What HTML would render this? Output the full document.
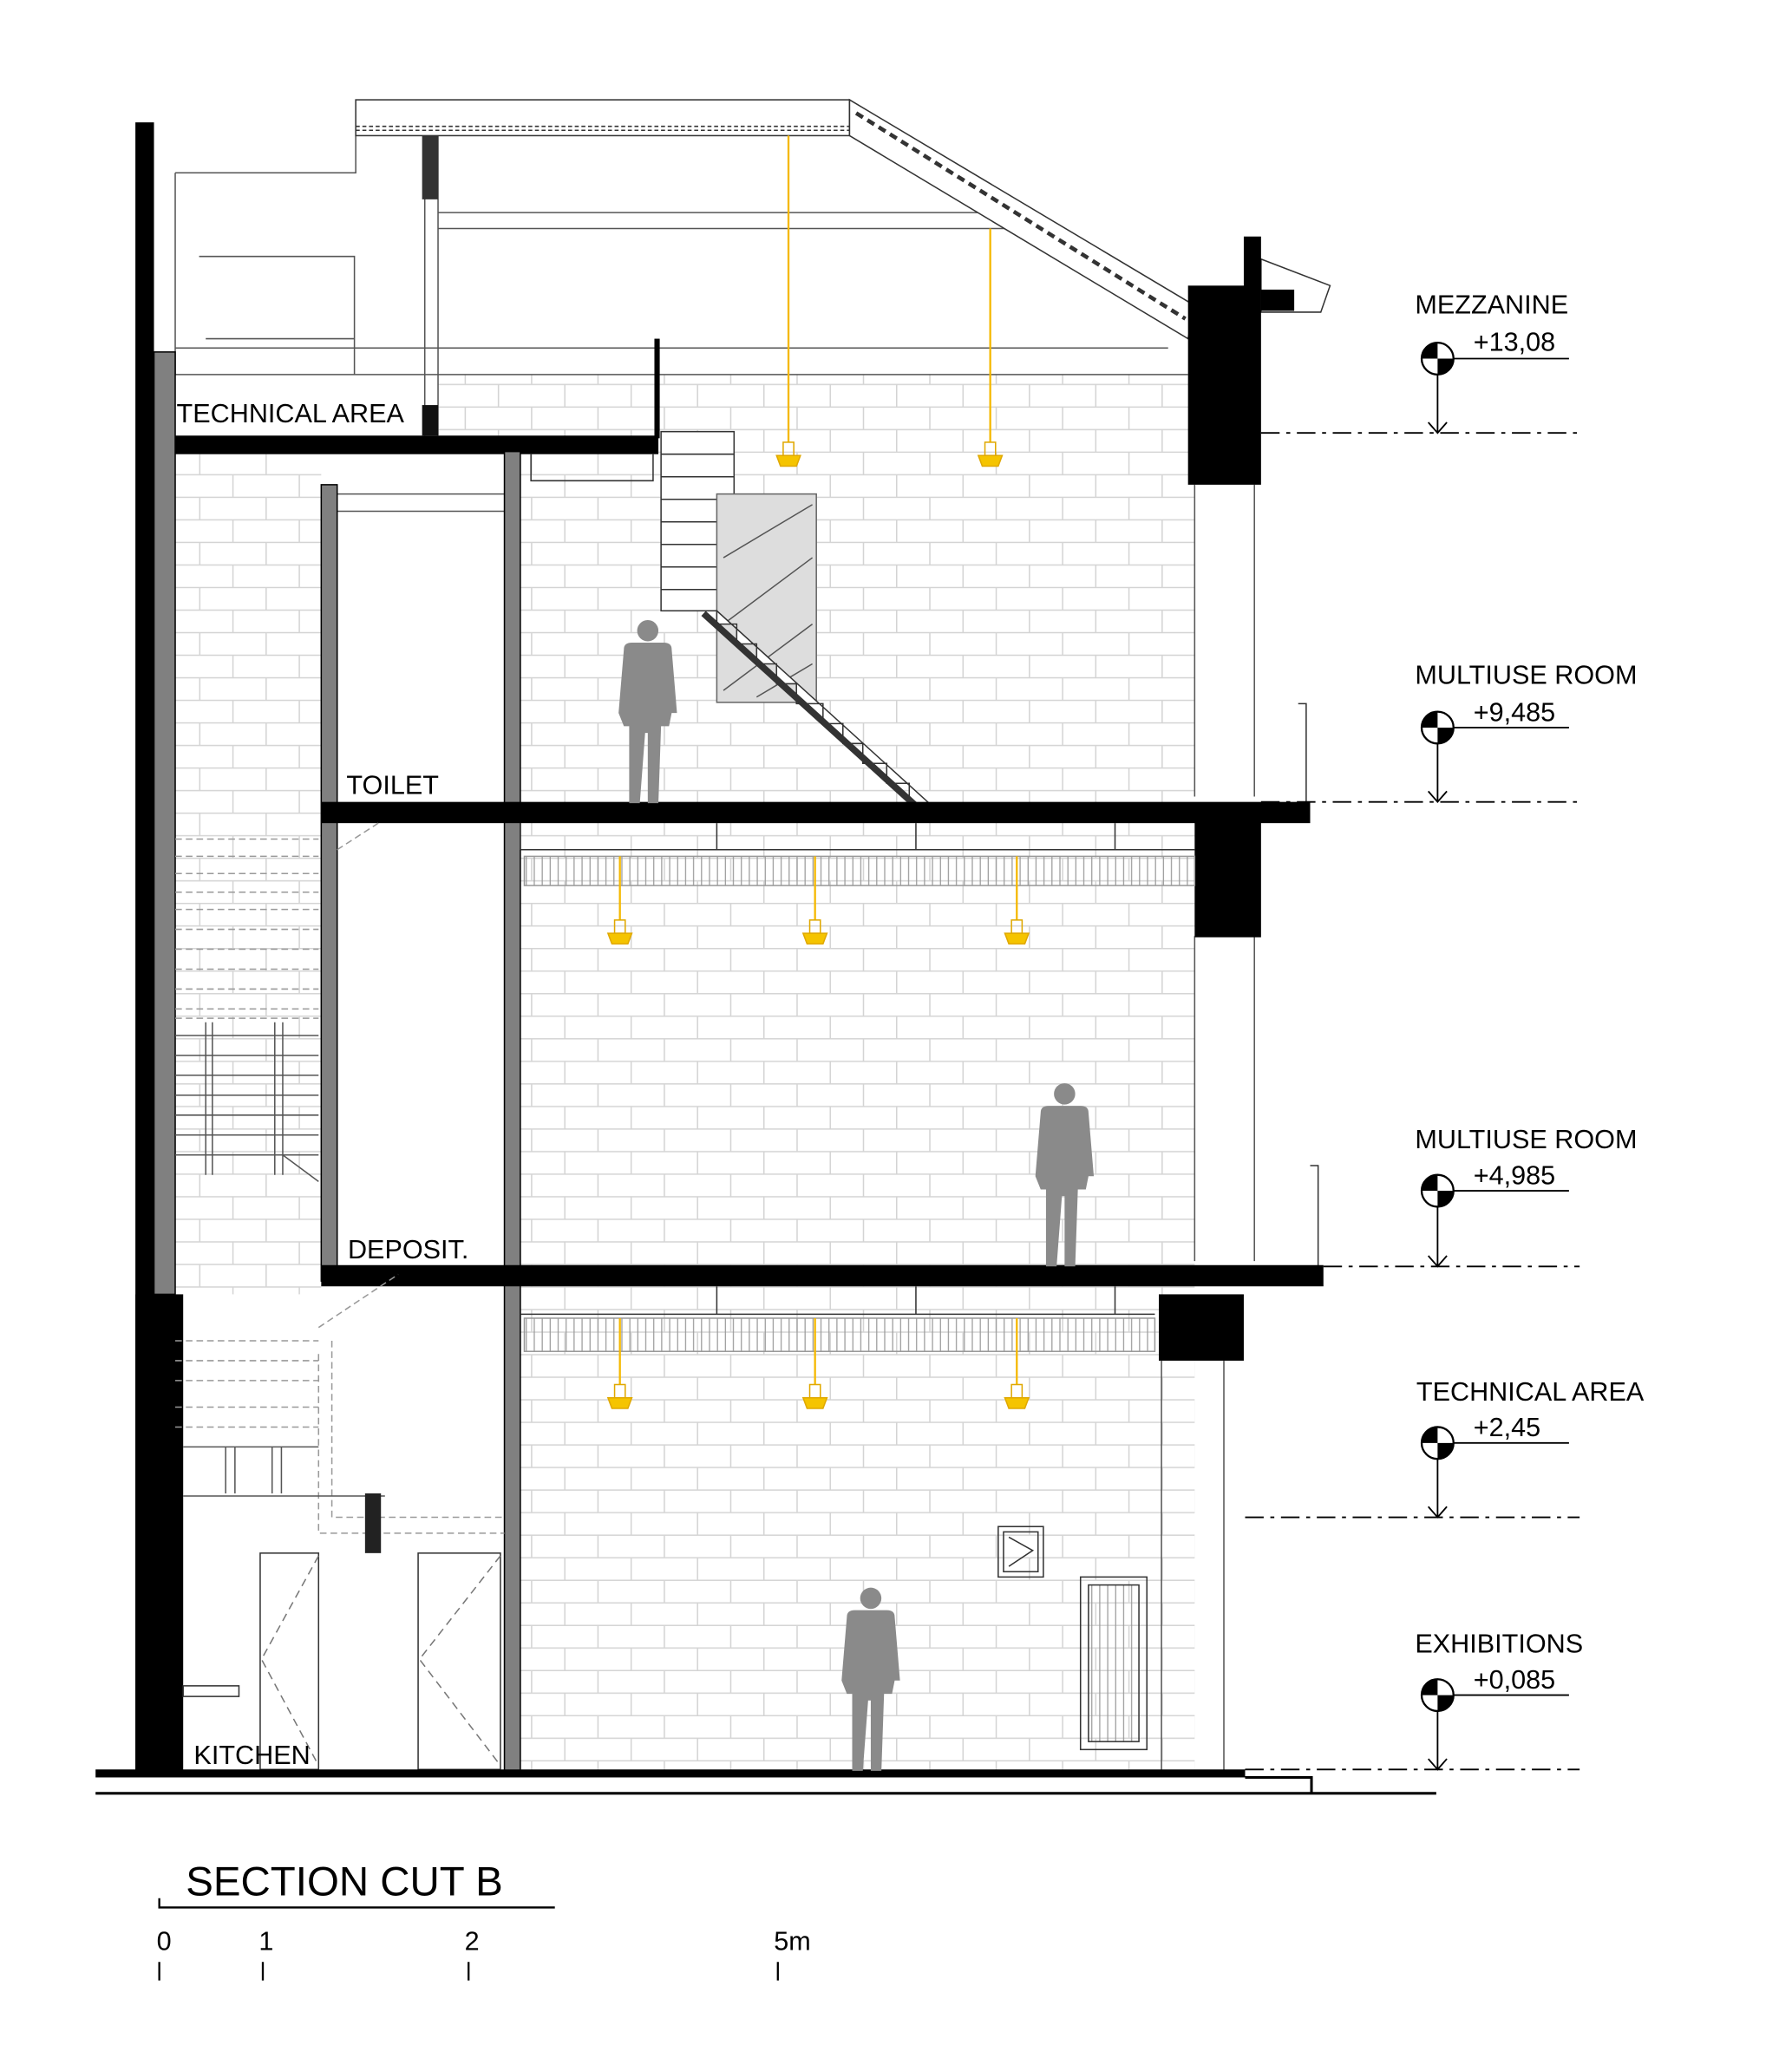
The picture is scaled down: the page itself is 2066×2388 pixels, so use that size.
<!DOCTYPE html>
<html><head><meta charset="utf-8"><style>html,body{margin:0;padding:0;background:#fff}svg{display:block}</style></head>
<body>
<svg width="2066" height="2388" viewBox="0 0 1350 1560" xmlns="http://www.w3.org/2000/svg" font-family="Liberation Sans, sans-serif">
<defs>
<pattern id="brick" x="0" y="0" width="50" height="34" patternUnits="userSpaceOnUse">
<rect width="50" height="34" fill="#fff"/>
<path d="M0 0.5H50M0 17.5H50M0.5 0V17M25.5 17V34" stroke="#d4d4d4" stroke-width="1" fill="none"/>
</pattern>
<pattern id="vert" width="6" height="30" patternUnits="userSpaceOnUse"><path d="M0.5 0V30" stroke="#999" stroke-width="0.8"/></pattern>
<g id="lamp" fill="#f5c400" stroke="#e0a800" stroke-width="1"><rect x="-4" y="0" width="8" height="10" fill="none"/><path d="M-9 10h18l-3 8h-12z" fill="#f5c400"/></g>
<g id="man" fill="#8a8a8a"><circle cx="0" cy="8" r="8"/><path d="M-18 22Q-18 17 -12 17H12Q18 17 18 22L22 70H18L16 80H10L8 138H0V85H-2L-6 138H-14L-14 80H-18L-22 70z"/></g>
</defs>
<rect width="1350" height="1560" fill="#fff"/>
<!-- brick areas -->
<rect x="392" y="282" width="508" height="1053" fill="url(#brick)"/>
<rect x="132" y="342" width="110" height="633" fill="url(#brick)"/>
<rect x="330" y="282" width="70" height="46" fill="url(#brick)"/>
<!-- upper technical area lines -->
<g stroke="#555" fill="none" stroke-width="1">
<path d="M132 130H268V102M132 130V282H895M330 160H760M330 172H770M132 262H880M150 193H267V282M155 255H267"/>
<path d="M320 102V328M330 102V328"/>
<path d="M900 365V600M900 705V950M945 365V600M945 705V950M875 1025V1335M922 1025V1335"/>
<path d="M254 385H380M254 372H380M254 370V600M254 625V950"/>
</g>
<rect x="318" y="100" width="12" height="50" fill="#333"/>
<rect x="318" y="305" width="12" height="23" fill="#111"/>
<!-- roof -->
<rect x="268" y="75" width="372" height="27" fill="#fff" stroke="#333"/>
<path d="M268 95H640M268 98H640" stroke="#333" stroke-dasharray="3 2"/>
<path d="M640 75L900 230L895 255L640 102z" fill="#fff" stroke="#333"/>
<path d="M645 85L893 240" stroke="#333" stroke-dasharray="6 4" stroke-width="3"/>
<path d="M950 195L1002 215L995 235H950z" fill="#fff" stroke="#333"/>
<!-- left wall -->
<rect x="102" y="92" width="14" height="1243" fill="#000"/>
<rect x="116" y="265" width="16" height="710" fill="#808080" stroke="#000"/>
<rect x="102" y="975" width="36" height="360" fill="#000"/>
<!-- mezz slab -->
<rect x="132" y="328" width="364" height="14" fill="#000"/>
<rect x="493" y="255" width="4" height="75" fill="#000"/>
<path d="M400 342V362H492V342" stroke="#333" fill="none"/>
<!-- stair upper -->
<g stroke="#333" fill="#fff"><rect x="498" y="325" width="55" height="135"/></g>
<path d="M498 342H553M498 359H553M498 376H553M498 393H553M498 410H553M498 427H553M498 444H553" stroke="#333"/>
<rect x="540" y="372" width="75" height="157" fill="#ddd" stroke="#666"/>
<path d="M545 420L612 380M545 470L612 420M545 520L612 470M570 525L612 500" stroke="#555"/>
<path d="M522 460H540V470H555V485H570V500H585V515H600V530H620V545H635V560H650V575H668V590H685V605H700L540 460z" fill="#fff" stroke="#333"/>
<path d="M530 462L690 607" stroke="#333" stroke-width="5"/>
<!-- columns -->
<rect x="380" y="340" width="12" height="995" fill="#808080" stroke="#000"/>
<rect x="242" y="365" width="12" height="600" fill="#808080" stroke="#000"/>
<!-- right wall -->
<rect x="937" y="178" width="13" height="40" fill="#000"/>
<rect x="895" y="215" width="55" height="150" fill="#000"/>
<rect x="950" y="218" width="25" height="16" fill="#000"/>
<rect x="900" y="618" width="50" height="88" fill="#000"/>
<rect x="873" y="975" width="64" height="50" fill="#000"/>
<path d="M978 530H984V605M987 878H993V955" stroke="#333" fill="none"/>
<!-- slabs -->
<rect x="242" y="604" width="745" height="16" fill="#000"/>
<rect x="242" y="953" width="755" height="16" fill="#000"/>
<!-- ceiling hangers -->
<g stroke="#333" fill="none"><path d="M392 640H900M392 990H870M392 620V640M540 620V640M690 620V640M840 620V640M540 969V990M690 969V990M840 969V990"/></g>
<rect x="395" y="645" width="505" height="22" fill="url(#vert)" stroke="#999"/>
<rect x="395" y="993" width="475" height="25" fill="url(#vert)" stroke="#999"/>
<!-- left stair (dashed) -->
<g stroke="#999" fill="none" stroke-dasharray="5 3">
<path d="M132 632H240M132 645H240M132 658H240M132 672H240M132 685H240M132 700H240M132 715H240M132 730H240M132 745H240M132 760H240M132 767H240"/>
<path d="M254 640L285 620M240 1020V1155H380M250 1010V1143H380M240 1000L300 960M132 1010H240M132 1025H240M132 1040H240M132 1060H240M132 1075H240"/>
</g>
<g stroke="#555" fill="none">
<path d="M132 780H240M132 795H240M132 810H240M132 825H240M132 840H240M132 855H240M132 870H240M155 770V885M160 770V885M207 770V885M213 770V885M213 870L240 890"/>
<path d="M138 1090H240M138 1127H290M170 1090V1125M177 1090V1125M205 1090V1125M212 1090V1125"/>
</g>
<rect x="275" y="1125" width="12" height="45" fill="#222"/>
<!-- kitchen doors -->
<g stroke="#333" fill="none"><rect x="196" y="1170" width="44" height="163"/><rect x="315" y="1170" width="62" height="163"/><rect x="138" y="1270" width="42" height="8"/>
<path d="M240 1172L197 1250L240 1330M377 1172L316 1250L377 1330" stroke-dasharray="6 4" stroke="#777"/>
<rect x="752" y="1150" width="34" height="38"/><rect x="756" y="1154" width="26" height="30"/><path d="M760 1158L778 1168L760 1180"/>
<rect x="814" y="1188" width="50" height="130"/><rect x="820" y="1194" width="38" height="118" fill="url(#vert)"/></g>
<!-- ground -->
<rect x="72" y="1333" width="866" height="6" fill="#000"/>
<path d="M72 1351H1082M938 1339H988V1351" stroke="#000" stroke-width="2" fill="none"/>
<!-- lamps -->
<g stroke="#f5b800" stroke-width="1.5"><path d="M594 102V333M746 172V333M467 645V693M614 645V693M766 645V693M467 993V1043M614 993V1043M766 993V1043"/></g>
<use href="#lamp" x="594" y="333"/><use href="#lamp" x="746" y="333"/>
<use href="#lamp" x="467" y="693"/><use href="#lamp" x="614" y="693"/><use href="#lamp" x="766" y="693"/>
<use href="#lamp" x="467" y="1043"/><use href="#lamp" x="614" y="1043"/><use href="#lamp" x="766" y="1043"/>
<!-- people -->
<use href="#man" x="488" y="467"/><use href="#man" x="802" y="816"/><use href="#man" x="656" y="1196"/>
<!-- room labels -->
<g font-size="20" fill="#000">
<text x="133" y="318">TECHNICAL AREA</text>
<text x="261" y="598">TOILET</text>
<text x="262" y="948">DEPOSIT.</text>
<text x="146" y="1329">KITCHEN</text>
</g>
<!-- level markers -->
<g font-size="20" fill="#000">
<text x="1066" y="236">MEZZANINE</text><text x="1110" y="264">+13,08</text>
<text x="1066" y="515">MULTIUSE ROOM</text><text x="1110" y="543">+9,485</text>
<text x="1066" y="865">MULTIUSE ROOM</text><text x="1110" y="892">+4,985</text>
<text x="1067" y="1055">TECHNICAL AREA</text><text x="1110" y="1082">+2,45</text>
<text x="1066" y="1245">EXHIBITIONS</text><text x="1110" y="1272">+0,085</text>
</g>
<g stroke="#000" fill="none" stroke-width="1.2">
<path d="M950 326H1190M950 604H1190M997 954H1190M938 1143H1190M938 1333H1190" stroke-dasharray="14 5 3 5"/>
<path d="M1083 270V326M1076 318L1083 326L1090 318M1083 548V604M1076 596L1083 604L1090 596M1083 897V954M1076 946L1083 954L1090 946M1083 1087V1143M1076 1135L1083 1143L1090 1135M1083 1277V1333M1076 1325L1083 1333L1090 1325"/>
<path d="M1083 270H1182M1083 548H1182M1083 897H1182M1083 1087H1182M1083 1277H1182"/>
</g>
<g>
<g transform="translate(1083 270)"><circle r="12" fill="#fff" stroke="#000" stroke-width="1.5"/><path d="M-12 0A12 12 0 0 1 0 -12V0zM12 0A12 12 0 0 1 0 12V0z" fill="#000"/></g>
<g transform="translate(1083 548)"><circle r="12" fill="#fff" stroke="#000" stroke-width="1.5"/><path d="M-12 0A12 12 0 0 1 0 -12V0zM12 0A12 12 0 0 1 0 12V0z" fill="#000"/></g>
<g transform="translate(1083 897)"><circle r="12" fill="#fff" stroke="#000" stroke-width="1.5"/><path d="M-12 0A12 12 0 0 1 0 -12V0zM12 0A12 12 0 0 1 0 12V0z" fill="#000"/></g>
<g transform="translate(1083 1087)"><circle r="12" fill="#fff" stroke="#000" stroke-width="1.5"/><path d="M-12 0A12 12 0 0 1 0 -12V0zM12 0A12 12 0 0 1 0 12V0z" fill="#000"/></g>
<g transform="translate(1083 1277)"><circle r="12" fill="#fff" stroke="#000" stroke-width="1.5"/><path d="M-12 0A12 12 0 0 1 0 -12V0zM12 0A12 12 0 0 1 0 12V0z" fill="#000"/></g>
</g>
<!-- title & scale -->
<text x="140" y="1428" font-size="31">SECTION CUT B</text>
<path d="M120 1430V1437H418" stroke="#000" stroke-width="1.5" fill="none"/>
<g font-size="20"><text x="118" y="1469">0</text><text x="195" y="1469">1</text><text x="350" y="1469">2</text><text x="583" y="1469">5m</text></g>
<path d="M120 1478V1492M198 1478V1492M353 1478V1492M586 1478V1492" stroke="#000" stroke-width="1.5"/>
</svg>
</body></html>
